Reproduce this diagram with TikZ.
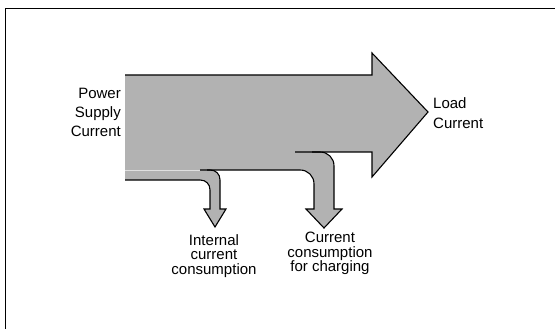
\documentclass[tikz,border=0pt]{standalone}
\usepackage{fontspec}
\setmainfont{Liberation Sans}
\begin{document}
\begin{tikzpicture}[x=1pt,y=-1pt,
  frame/.style={draw=black,line width=1pt},
  flowline/.style={draw=black,line width=1.1pt,line join=miter},
  lbl/.style={inner sep=0pt,font=\fontsize{15}{19}\selectfont},
  lblb/.style={inner sep=0pt,font=\fontsize{15}{14.5}\selectfont}]
\useasboundingbox (0,0) rectangle (555,329);
% frame
\draw[frame] (5,329) -- (5,9) -- (555,9);
% gray body
\fill[black!30] (125,75) -- (372,75) -- (372,53) -- (428,112) -- (372,177) -- (372,152)
  -- (320,152) .. controls (328,152) and (334,158) .. (334,166)
  -- (334,209) -- (342,209) -- (324,228) -- (306,209) -- (314,209)
  -- (314,184) .. controls (314,176) and (308,170) .. (300,170)
  -- (210,170) .. controls (216,170) and (220,174) .. (220,180)
  -- (220,209) -- (226,209) -- (215,227) -- (204,209) -- (210,209)
  -- (210,190) .. controls (210,184) and (206,180) .. (200,180)
  -- (125,180) -- cycle;
% seam
\draw[black!12,line width=0.8pt] (125,170) -- (200,170);
% outline
\draw[flowline] (125,75) -- (372,75) -- (372,53) -- (428,112) -- (372,177) -- (372,152) -- (295,152);
\draw[flowline] (312,152) -- (320,152) .. controls (328,152) and (334,158) .. (334,166)
  -- (334,209) -- (342,209) -- (324,228) -- (306,209) -- (314,209)
  -- (314,184) .. controls (314,176) and (308,170) .. (300,170)
  -- (200,170);
\draw[flowline] (207,170) -- (210,170) .. controls (216,170) and (220,174) .. (220,180)
  -- (220,209) -- (226,209) -- (215,227) -- (204,209) -- (210,209)
  -- (210,190) .. controls (210,184) and (206,180) .. (200,180)
  -- (125,180);
% labels
\node[lbl,anchor=north east,align=right] (psc) at (121,88) {Power\\Supply\\Current};
\node[lbl,anchor=north west,align=left,font=\fontsize{15}{20}\selectfont] (lc) at (433,97) {Load\\Current};
\node[lblb,anchor=north,align=center] (icc) at (214,234) {Internal\\current\\consumption};
\node[lblb,anchor=north,align=center] (ccc) at (330,232) {Current\\consumption\\for charging};
\end{tikzpicture}
\end{document}
